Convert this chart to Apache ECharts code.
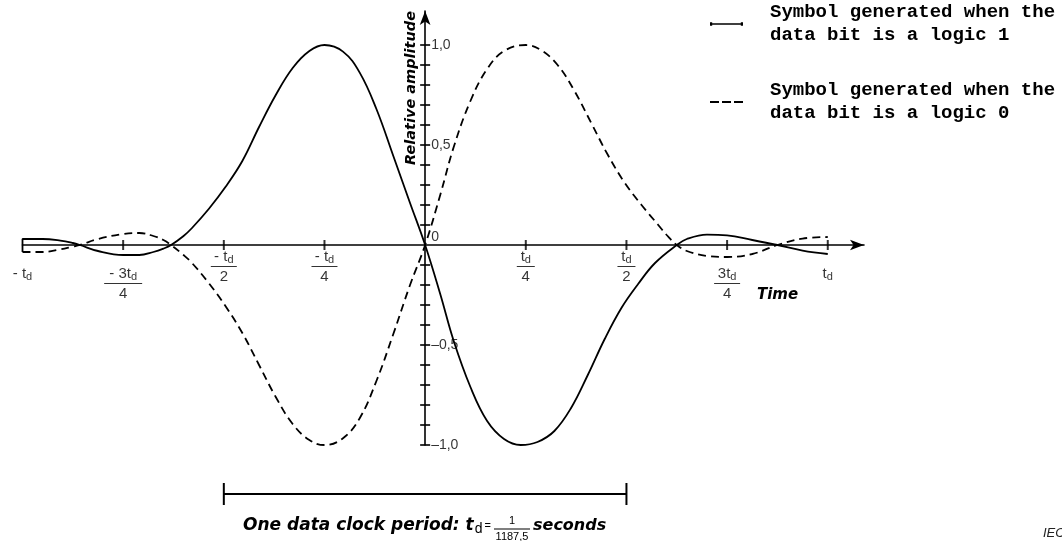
<!DOCTYPE html>
<html>
<head>
<meta charset="utf-8">
<script src="https://cdn.jsdelivr.net/npm/echarts@6/dist/echarts.min.js"></script>
<style>
html,body{margin:0;padding:0;background:#fff;}
#chart{width:1062px;height:541px;}
</style>
</head>
<body>
<div id="chart"></div>
<script>
// ---- data (time in units of t_d, relative amplitude) ----
const solidT = [-1, -1, -0.95, -0.906, -0.875, -0.8575, -0.8125, -0.75, -0.71, -0.675, -0.65, -0.631,
  -0.6, -0.579, -0.5375, -0.496, -0.454, -0.4125, -0.371, -0.329, -0.2875, -0.25, -0.204, -0.1625, -0.121,
  -0.079, -0.0375, 0, 0.0375, 0.071, 0.1125, 0.154, 0.196, 0.2375, 0.279, 0.321, 0.3625, 0.404, 0.446,
  0.4875, 0.529, 0.571, 0.625, 0.65, 0.7, 0.75, 0.8125, 0.875, 0.9375, 1.0];
const solidV = [-0.035, 0.03, 0.03, 0.022, 0.01, 0, -0.03, -0.05, -0.05, -0.035, -0.018, 0,
  0.045, 0.085, 0.18, 0.29, 0.42, 0.59, 0.75, 0.885, 0.97, 1.0, 0.967, 0.862, 0.68,
  0.445, 0.21, 0, -0.245, -0.48, -0.71, -0.88, -0.97, -1.0, -0.985, -0.93, -0.815, -0.65, -0.47,
  -0.315, -0.195, -0.09, 0, 0.03, 0.052, 0.048, 0.025, 0, -0.028, -0.045];

const dashedT = [-1, -0.95, -0.906, -0.875, -0.8575, -0.8125, -0.75, -0.71, -0.675, -0.65, -0.631,
  -0.6, -0.579, -0.5375, -0.496, -0.454, -0.4125, -0.371, -0.329, -0.2875, -0.25, -0.204, -0.1625, -0.121,
  -0.079, -0.0375, 0, 0.0375, 0.071, 0.1125, 0.154, 0.196, 0.25, 0.2875, 0.329, 0.371, 0.4125,
  0.454, 0.496, 0.5375, 0.579, 0.6, 0.625, 0.65, 0.7, 0.75, 0.8125, 0.875, 0.9375, 1.0];
const dashedV = [-0.035, -0.035, -0.022, -0.008, 0, 0.03, 0.055, 0.06, 0.045, 0.025, 0,
  -0.05, -0.09, -0.19, -0.305, -0.44, -0.6, -0.76, -0.895, -0.975, -1.0, -0.966, -0.866, -0.68,
  -0.445, -0.2, 0, 0.25, 0.49, 0.72, 0.88, 0.97, 1.0, 0.975, 0.9, 0.77, 0.61,
  0.45, 0.31, 0.2, 0.1, 0.05, 0, -0.03, -0.055, -0.06, -0.045, 0, 0.032, 0.04];

const seriesNames = ['Symbol generated when the\ndata bit is a logic 1',
                     'Symbol generated when the\ndata bit is a logic 0'];

// tick marks and labels
const xTickVals = [-0.75, -0.5, -0.25, 0.25, 0.5, 0.75, 1];
const xLabelVals = [-1, -0.75, -0.5, -0.25, 0.25, 0.5, 0.75, 1];
const xLabelNum = ['- t', '- 3t', '- t', '- t', 't', 't', '3t', 't'];
const xLabelDen = ['', '4', '2', '4', '4', '2', '4', ''];
const yTickVals = [-1, -0.9, -0.8, -0.7, -0.6, -0.5, -0.4, -0.3, -0.2, -0.1,
                   0.1, 0.2, 0.3, 0.4, 0.5, 0.6, 0.7, 0.8, 0.9, 1];
const yLabelVals = [1, 0.5, 0, -0.5, -1];
const yLabelText = ['1,0', '0,5', '0', '–0,5', '–1,0'];
const periodT = [-0.5, 0.5];

// ---- chart ----
const FONT = 'Liberation Sans';
const BFONT = 'DejaVu Sans';
const chart = echarts.init(document.getElementById('chart'), null, {renderer: 'canvas'});

function barKey(num) {
  if (num.indexOf('3') >= 0 && num.indexOf('-') >= 0) return 'barW';
  if (num.indexOf('-') >= 0 || num.indexOf('3') >= 0) return 'barM';
  return 'barS';
}
function xFmt(val) {
  const i = xLabelVals.findIndex(v => Math.abs(v - val) < 1e-6);
  if (i < 0) return '';
  let s = Math.abs(val) >= 0.75 ? '{sp| }\n' : '';
  s += '{n|' + xLabelNum[i] + '}{s|d}';
  if (xLabelDen[i]) s += '\n{' + barKey(xLabelNum[i]) + '| }\n{n|' + xLabelDen[i] + '}';
  return s;
}
function yFmt(val) {
  const i = yLabelVals.findIndex(v => Math.abs(v - val) < 1e-6);
  if (i < 0) return '';
  return yLabelVals[i] === 0 ? '{z|' + yLabelText[i] + '}' : '{y|' + yLabelText[i] + '}';
}

const barStyle = w => ({width: w, height: 1, lineHeight: 5, fontSize: 1, backgroundColor: '#000'});
const X_MIN = -1, X_MAX = 1.09;

const option = {
  backgroundColor: '#fff',
  animation: false,
  legend: {
    orient: 'vertical', left: 710, top: 1, padding: 0,
    itemWidth: 33, itemHeight: 10, itemGap: 32,
    data: [
      {name: seriesNames[0], icon: 'path://M0,1h33v1.4h-33Z M0,0h2.2v3.4h-2.2Z M30.8,0h2.2v3.4h-2.2Z'},
      {name: seriesNames[1], icon: 'path://M0,0h9v1.8h-9Z M12,0h9v1.8h-9Z M24,0h9v1.8h-9Z'}
    ],
    textStyle: {fontFamily: 'Liberation Mono', fontWeight: 'bold', fontSize: 19, lineHeight: 23,
                color: '#000', padding: [0, 0, 0, 22]}
  },
  grid: [
    {left: 22.5, right: 1062 - 864, top: 11, bottom: 96, outerBoundsMode: 'none', containLabel: false},
    {left: 22.5, right: 1062 - 864, top: 483, height: 22, outerBoundsMode: 'none', containLabel: false}
  ],
  xAxis: [{
    gridIndex: 0, type: 'value', min: X_MIN, max: X_MAX, interval: 0.25,
    axisLine: {onZero: true, symbol: ['none', 'arrow'], symbolSize: [8, 14], lineStyle: {color: '#000', width: 1.6}},
    axisTick: {show: false}, splitLine: {show: false}, axisLabel: {show: false}
  }, {
    gridIndex: 1, type: 'value', min: X_MIN, max: X_MAX, show: false
  }],
  yAxis: [{
    gridIndex: 0, type: 'value', min: -1, max: 1.17, interval: 0.1,
    axisLine: {onZero: true, symbol: ['none', 'arrow'], symbolSize: [8, 14], lineStyle: {color: '#000', width: 1.6}},
    axisTick: {show: false}, splitLine: {show: false}, axisLabel: {show: false}
  }, {
    gridIndex: 1, type: 'value', min: -1, max: 1, show: false
  }],
  series: [
    {
      name: seriesNames[0], type: 'line', xAxisIndex: 0, yAxisIndex: 0,
      data: solidT.map((t, i) => [t, solidV[i]]),
      smooth: 0.4, symbol: 'none', lineStyle: {color: '#000', width: 1.8}, itemStyle: {color: '#000'}, z: 3
    },
    {
      name: seriesNames[1], type: 'line', xAxisIndex: 0, yAxisIndex: 0,
      data: dashedT.map((t, i) => [t, dashedV[i]]),
      smooth: 0.4, symbol: 'none', lineStyle: {color: '#000', width: 1.8, type: [8, 5]}, itemStyle: {color: '#000'}, z: 3
    },
    {
      name: 'xticks', type: 'scatter', xAxisIndex: 0, yAxisIndex: 0, silent: true,
      data: xTickVals.map(t => [t, 0]), symbol: 'rect', symbolSize: [2, 10],
      itemStyle: {color: '#000'}, z: 4
    },
    {
      name: 'yticks', type: 'scatter', xAxisIndex: 0, yAxisIndex: 0, silent: true,
      data: yTickVals.map(v => [0, v]), symbol: 'rect', symbolSize: [10, 2],
      itemStyle: {color: '#000'}, z: 4
    },
    {
      name: 'xlabels', type: 'scatter', xAxisIndex: 0, yAxisIndex: 0, silent: true,
      data: xLabelVals.map(t => [t, 0]), symbolSize: 0, z: 5,
      label: {
        show: true, position: 'bottom', distance: 4, align: 'center', verticalAlign: 'top',
        formatter: p => xFmt(p.value[0]),
        rich: {
          n: {fontFamily: FONT, fontSize: 15, lineHeight: 15, color: '#000'},
          s: {fontFamily: FONT, fontSize: 11, lineHeight: 15, padding: [6, 0, 0, 0], color: '#000'},
          sp: {fontSize: 10, lineHeight: 17},
          barS: barStyle(18), barM: barStyle(26), barW: barStyle(38)
        }
      }
    },
    {
      name: 'ylabels', type: 'scatter', xAxisIndex: 0, yAxisIndex: 0, silent: true,
      data: yLabelVals.map(v => [0, v]), symbolSize: 0, z: 5,
      label: {
        show: true, position: 'right', distance: 6,
        formatter: p => yFmt(p.value[1]),
        rich: {
          y: {fontFamily: FONT, fontSize: 14, color: '#000'},
          z: {fontFamily: FONT, fontSize: 14, color: '#000', padding: [0, 0, 16, 0]}
        }
      }
    },
    {
      name: 'period', type: 'line', xAxisIndex: 1, yAxisIndex: 1, silent: true,
      data: periodT.map(t => [t, 0]), symbol: 'rect', symbolSize: [2, 22], showSymbol: true,
      lineStyle: {color: '#000', width: 2}, itemStyle: {color: '#000'}
    }
  ],
  graphic: [
    {type: 'text', x: 411, y: 88, rotation: Math.PI / 2,
     style: {text: 'Relative amplitude', fontFamily: BFONT, fontWeight: 'bold', fontStyle: 'italic',
             fontSize: 14.5, fill: '#000', align: 'center', verticalAlign: 'middle'}},
    {type: 'text', x: 757, y: 295,
     style: {text: 'Time', fontFamily: BFONT, fontWeight: 'bold', fontStyle: 'italic',
             fontSize: 15, fill: '#000', align: 'left', verticalAlign: 'middle'}},
    {type: 'text', x: 243, y: 526,
     style: {text: '{b|One data clock period: t}{sub|d}{eq|=}', align: 'left', verticalAlign: 'middle',
             rich: {
               b: {fontFamily: BFONT, fontWeight: 'bold', fontStyle: 'italic', fontSize: 17, fill: '#000'},
               sub: {fontFamily: FONT, fontSize: 14, padding: [6, 0, 0, 1], fill: '#000'},
               eq: {fontFamily: FONT, fontSize: 11, padding: [0, 0, 0, 2], fill: '#000'}
             }}},
    {type: 'text', x: 512, y: 529,
     style: {text: '{num|1}\n{bar| }\n{num|1187,5}', align: 'center', verticalAlign: 'middle',
             rich: {
               num: {fontFamily: FONT, fontSize: 11, lineHeight: 11, fill: '#000'},
               bar: {width: 36, height: 1, lineHeight: 5, fontSize: 1, backgroundColor: '#000'}
             }}},
    {type: 'text', x: 533, y: 526,
     style: {text: 'seconds', fontFamily: BFONT, fontWeight: 'bold', fontStyle: 'italic',
             fontSize: 16, fill: '#000', align: 'left', verticalAlign: 'middle'}},
    {type: 'text', x: 1043, y: 533,
     style: {text: 'IEC', fontFamily: FONT, fontStyle: 'italic', fontSize: 13, fill: '#222',
             align: 'left', verticalAlign: 'middle'}}
  ]
};
chart.setOption(option);
</script>
</body>
</html>
